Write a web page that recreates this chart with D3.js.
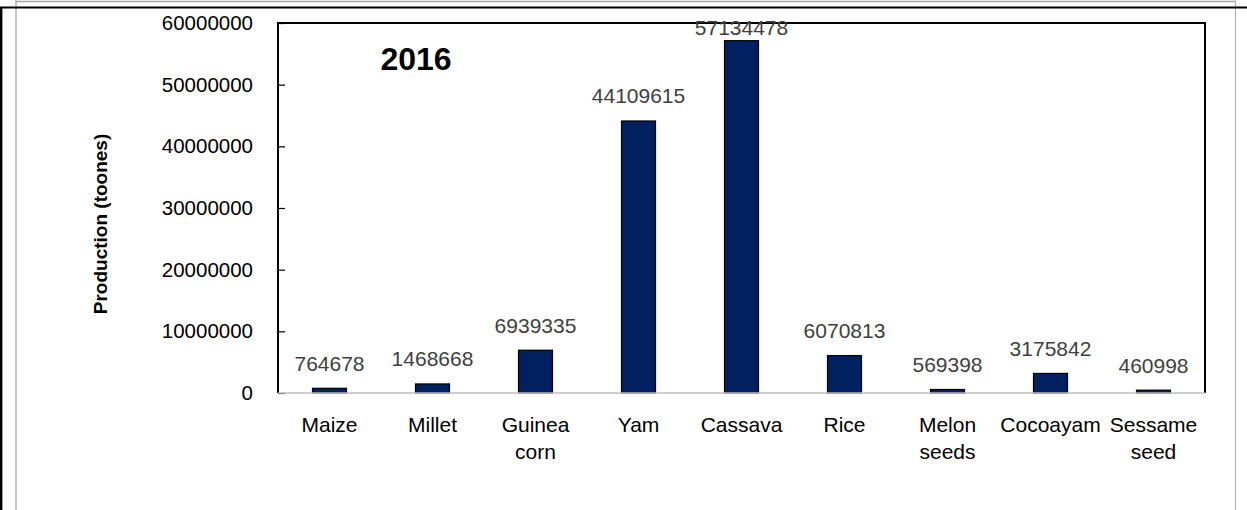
<!DOCTYPE html>
<html>
<head>
<meta charset="utf-8">
<script src="https://cdn.jsdelivr.net/npm/d3@7"></script>
<style>
  html, body { margin: 0; padding: 0; background: #fff; }
  svg { display: block; }
  text { font-family: "Liberation Sans", Arial, sans-serif; }
</style>
</head>
<body>
<svg id="chart" width="1247" height="510"></svg>
<script>
// Crop production, 2016 (tonnes)
const categories = ["Maize", "Millet", "Guinea corn", "Yam", "Cassava", "Rice", "Melon seeds", "Cocoayam", "Sessame seed"];
const production = [764678, 1468668, 6939335, 44109615, 57134478, 6070813, 569398, 3175842, 460998];
const yTicks = [0, 10000000, 20000000, 30000000, 40000000, 50000000, 60000000];
const chartTitle = "2016";
const yTitle = "Production (toones)";

const svg = d3.select("#chart");
const W = 1247, H = 510;
const plot = { left: 278, right: 1205, top: 23, bottom: 393 };

// page frame lines
const frame = svg.append("g");
frame.append("line").attr("x1", 16).attr("x2", 1236).attr("y1", 1.5).attr("y2", 1.5)
  .attr("stroke", "#a6a6a6").attr("stroke-width", 1.5);
frame.append("line").attr("x1", 16).attr("x2", 16).attr("y1", 0).attr("y2", H)
  .attr("stroke", "#b4b4b4").attr("stroke-width", 1.5);
frame.append("line").attr("x1", 1235.5).attr("x2", 1235.5).attr("y1", 0).attr("y2", H)
  .attr("stroke", "#b4b4b4").attr("stroke-width", 1.2);
frame.append("line").attr("x1", 0).attr("x2", W).attr("y1", 7.5).attr("y2", 7.5)
  .attr("stroke", "#000").attr("stroke-width", 2);
frame.append("line").attr("x1", 1.2).attr("x2", 1.2).attr("y1", 7).attr("y2", H)
  .attr("stroke", "#000").attr("stroke-width", 2.4);

const x = d3.scaleBand().domain(categories).range([plot.left, plot.right]).paddingInner(0.67).paddingOuter(0.335);
const y = d3.scaleLinear().domain([0, 60000000]).range([plot.bottom, plot.top]);

// plot area border (top, left, right)
svg.append("path")
  .attr("d", `M${plot.left},${plot.bottom} V${plot.top} H${plot.right} V${plot.bottom}`)
  .attr("fill", "none").attr("stroke", "#000").attr("stroke-width", 2);

// y axis with inside ticks
const yAxis = svg.append("g").attr("transform", `translate(${plot.left},0)`)
  .call(d3.axisLeft(y).tickValues(yTicks).tickSize(-7).tickPadding(25).tickFormat(d3.format("d")));
yAxis.select(".domain").remove();
yAxis.selectAll(".tick line").attr("stroke", "#000").attr("stroke-width", 1.2);
yAxis.selectAll(".tick text").attr("font-size", "20.5px").attr("fill", "#000")
  .attr("font-family", "Liberation Sans, Arial, sans-serif");

// bars
svg.append("g").selectAll("rect").data(production).join("rect")
  .attr("x", (d, i) => x(categories[i]))
  .attr("y", d => y(d))
  .attr("width", x.bandwidth())
  .attr("height", d => plot.bottom - y(d))
  .attr("fill", "#002060").attr("stroke", "#000").attr("stroke-width", 1.2);

// x axis line
svg.append("line").attr("x1", plot.left).attr("x2", plot.right)
  .attr("y1", plot.bottom).attr("y2", plot.bottom)
  .attr("stroke", "#bfbfbf").attr("stroke-width", 1.5);

// value labels
svg.append("g").selectAll("text").data(production).join("text")
  .attr("x", (d, i) => x(categories[i]) + x.bandwidth() / 2)
  .attr("y", d => Math.max(y(d) - 25, 28))
  .attr("dy", "0.35em")
  .attr("text-anchor", "middle")
  .attr("font-size", "21px").attr("fill", "#404040")
  .text(d => d3.format("d")(d));

// category labels, wrapped on spaces
const catG = svg.append("g");
categories.forEach(c => {
  const t = catG.append("text")
    .attr("x", x(c) + x.bandwidth() / 2)
    .attr("y", 432)
    .attr("text-anchor", "middle")
    .attr("font-size", "21px").attr("fill", "#000");
  c.split(" ").forEach((w, j) => {
    t.append("tspan").attr("x", x(c) + x.bandwidth() / 2).attr("dy", j === 0 ? 0 : 27).text(w);
  });
});

// chart title
svg.append("text").attr("x", 416).attr("y", 70).attr("text-anchor", "middle")
  .attr("font-size", "32px").attr("font-weight", "bold").attr("fill", "#000").text(chartTitle);

// y axis title
svg.append("text").attr("transform", "translate(107,224) rotate(-90)")
  .attr("text-anchor", "middle").attr("font-size", "19px").attr("font-weight", "bold")
  .attr("fill", "#000").text(yTitle);
</script>
</body>
</html>
